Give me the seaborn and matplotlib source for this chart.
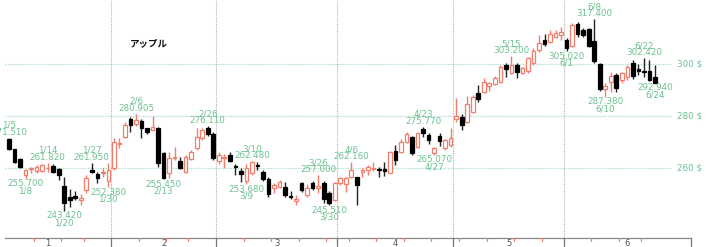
import matplotlib
matplotlib.use("Agg")
import matplotlib.pyplot as plt
import matplotlib.transforms as mtransforms
import numpy as np
import pandas as pd
import seaborn as sns

# ---------------- data ----------------
dates = ["1/5","1/6","1/7","1/8","1/9","1/12","1/13","1/14","1/15","1/16",
         "1/20","1/21","1/22","1/23","1/26","1/27","1/28","1/29","1/30",
         "2/2","2/3","2/4","2/5","2/6","2/9","2/10","2/11","2/12","2/13",
         "2/17","2/18","2/19","2/20","2/23","2/24","2/25","2/26","2/27",
         "3/2","3/3","3/4","3/5","3/6","3/9","3/10","3/11","3/12","3/13",
         "3/16","3/17","3/18","3/19","3/20","3/23","3/24","3/25","3/26","3/27","3/30","3/31",
         "4/1","4/2","4/6","4/7","4/8","4/9","4/10","4/13","4/14","4/15","4/16","4/17",
         "4/20","4/21","4/22","4/23","4/24","4/27","4/28","4/29","4/30",
         "5/1","5/4","5/5","5/6","5/7","5/8","5/11","5/12","5/13","5/14","5/15",
         "5/18","5/19","5/20","5/21","5/22","5/26","5/27","5/28","5/29",
         "6/1","6/2","6/3","6/4","6/5","6/8","6/9","6/10","6/11","6/12",
         "6/15","6/16","6/17","6/18","6/22","6/23","6/24"]

opens = [271.0,267.1,263.2,257.1,259.3,258.8,258.7,259.8,260.7,259.4,
         252.9,248.8,249.1,247.5,251.4,259.1,257.6,258.1,255.0,
         260.0,269.1,272.0,278.8,276.8,278.1,275.2,274.6,275.5,265.6,
         257.8,263.6,262.6,258.5,263.4,267.7,271.4,275.2,272.9,
         262.6,263.6,264.9,260.8,258.7,254.8,257.8,261.0,258.5,255.6,
         252.3,252.6,252.6,249.2,247.1,254.0,249.4,254.0,252.0,254.0,250.1,247.5,
         254.0,253.7,256.3,256.3,258.5,259.1,259.5,259.6,259.4,258.1,266.5,266.2,
         270.1,271.8,268.1,274.9,272.6,265.8,272.3,267.5,268.8,
         278.7,279.7,277.8,281.7,289.0,289.4,291.6,292.4,293.3,299.7,296.8,
         299.7,296.5,297.5,300.4,305.5,309.4,308.7,310.7,311.5,
         309.4,307.1,315.6,313.2,313.5,309.0,300.1,290.3,293.3,295.9,
         293.9,295.0,300.6,298.0,297.4,297.5,295.2]

highs = [271.51,267.4,263.6,259.5,260.4,261.0,261.5,261.82,261.5,259.8,
         256.5,251.6,251.0,249.8,257.2,261.95,258.5,259.8,261.7,
         271.4,271.6,277.8,279.7,280.905,278.8,275.5,280.1,275.9,265.9,
         266.2,268.1,264.3,264.9,266.8,275.2,275.2,276.11,273.9,
         266.2,265.2,266.2,261.3,260.0,261.3,262.48,262.1,259.1,256.5,
         254.0,255.2,254.6,251.0,249.4,254.6,253.6,254.9,257.0,254.9,251.0,254.6,
         256.3,256.3,262.16,256.5,259.8,261.0,262.3,260.1,262.3,266.6,268.8,271.0,
         273.9,272.3,273.9,275.77,273.3,267.9,273.3,271.0,275.5,
         286.8,280.7,287.7,288.1,292.0,294.6,293.3,295.5,299.7,300.6,303.2,
         300.6,299.1,302.9,306.2,311.3,311.7,313.3,313.3,314.6,
         310.1,315.9,316.5,313.9,314.1,317.4,300.6,292.6,297.1,296.8,
         297.1,299.7,301.7,300.1,302.42,301.7,299.7]

lows = [266.8,262.0,260.0,255.7,257.8,257.8,258.3,258.5,258.1,255.2,
        243.42,244.7,247.5,245.6,250.1,258.1,254.2,256.5,252.38,
        259.1,267.7,271.6,273.9,276.2,271.6,272.9,274.2,260.4,255.45,
        255.9,263.0,259.5,258.1,263.0,266.8,270.7,272.3,263.0,
        261.3,260.0,262.1,257.2,254.6,253.68,257.2,259.1,254.9,248.8,
        250.1,252.0,248.8,247.9,245.6,250.7,248.8,251.4,250.1,246.2,245.51,247.0,
        253.3,250.7,255.9,245.6,256.5,257.2,258.8,256.5,256.8,257.8,261.0,265.6,
        269.4,264.9,267.5,271.8,269.2,265.07,268.4,266.8,268.1,
        277.5,274.6,277.2,281.0,285.5,288.8,289.8,292.0,292.9,295.2,296.2,
        294.6,296.1,296.7,299.7,304.9,307.1,308.1,310.1,309.4,
        305.02,306.8,310.7,310.4,306.8,300.6,289.8,287.38,289.4,289.4,
        292.6,293.9,294.2,295.9,295.2,293.7,292.94]

closes = [267.1,262.3,260.4,259.1,259.7,260.1,261.0,260.0,258.5,257.2,
          246.5,247.5,248.3,248.3,255.9,258.3,256.1,258.3,259.1,
          270.1,269.4,276.5,276.5,278.5,275.2,273.7,275.6,261.7,255.9,
          263.9,264.3,260.0,264.3,266.2,272.0,274.6,272.9,263.9,
          264.9,264.0,262.6,260.3,257.4,259.8,262.1,260.7,255.6,249.7,
          253.3,254.4,249.4,248.8,247.9,251.4,252.0,252.3,253.0,247.9,246.2,254.0,
          255.9,255.9,259.1,253.3,259.1,260.1,260.0,259.1,258.8,266.2,263.0,270.1,
          273.0,265.8,273.3,273.3,270.7,267.5,270.4,270.7,271.4,
          280.0,276.5,284.5,287.5,286.5,293.3,292.6,294.8,299.1,298.0,299.7,
          297.1,298.5,302.3,305.3,308.4,307.9,311.9,312.2,312.3,
          306.2,315.2,311.7,311.2,307.0,301.3,290.3,291.6,295.5,290.8,
          296.5,299.1,295.5,297.5,296.9,293.9,292.94]

high_marks = ["1/5","1/14","1/27","2/6","2/26","3/10","3/26","4/6","4/23","5/15","6/8","6/22"]
low_marks = ["1/8","1/20","1/30","2/13","3/9","3/30","4/27","6/1","6/10","6/24"]

month_labels = ["1", "2", "3", "4", "5", "6"]
price_ticks = [260, 280, 300]
title = "アップル"

# ---------------- styling ----------------
sns.set_theme(style="white")
plt.rcParams["font.family"] = ["Liberation Sans Narrow", "DejaVu Sans"]

UP = "#f27d6a"
DOWN = "#000000"
DOWN_WICK = "#222222"
GREEN = "#6cc28e"
GRID_G = "#a9dcc6"
VGRID = "#b4b4b4"
FS = 6.3

df = pd.DataFrame({"date": dates, "open": opens, "high": highs,
                   "low": lows, "close": closes})
df["i"] = np.arange(len(df))
df["up"] = df["close"] >= df["open"]
df["month"] = df["date"].str.split("/").str[0].astype(int)
df["day"] = df["date"].str.split("/").str[1].astype(int)
df["ts"] = pd.to_datetime(dict(year=2026, month=df["month"], day=df["day"]))

W, H = 706, 247
fig = plt.figure(figsize=(W / 100, H / 100), dpi=100)
fig.patch.set_facecolor("white")
ax = fig.add_axes([5 / W, 9 / H, 686 / W, 238 / H])
ax.set_facecolor("white")

x_left, x_right = -0.724, 123.53
ax.set_xlim(x_left, x_right)
ax.set_ylim(232.8, 324.87)

# horizontal grid (ends before the price labels)
grid_end = 120.1
for p in price_ticks:
    ax.plot([x_left, grid_end], [p, p], color=GRID_G, lw=0.9,
            linestyle=(0, (1, 1)), zorder=1)
    ax.annotate(f"{p} $", xy=(125.5, p), xycoords="data", ha="right",
                va="center", fontsize=FS, color=GREEN, annotation_clip=False)

# month separators
month_change = df.index[df["month"].diff().fillna(0) != 0].tolist()
bounds = [i - 0.5 for i in month_change]
for b in bounds:
    ax.axvline(b, color=VGRID, lw=0.8, linestyle=(0, (1, 1)), zorder=1)
trans = mtransforms.blended_transform_factory(ax.transData, ax.transAxes)
all_bounds = [-4.5] + bounds + [123.5]
for b in bounds + [123.5]:
    ax.plot([b, b], [0, -8 / 238], transform=trans, color="#777777", lw=0.9,
            clip_on=False, zorder=4)
for k, lab in enumerate(month_labels):
    mid = (all_bounds[k] + all_bounds[k + 1]) / 2
    ax.annotate(lab, xy=(mid, 0), xycoords=trans, xytext=(0, -5),
                textcoords="offset pixels", ha="center", va="center",
                fontsize=6, color="#555555", family="DejaVu Sans",
                annotation_clip=False)

# weekly separators (small red ticks)
wk = df["ts"].dt.isocalendar().week.astype(int)
week_change = df.index[(wk.diff().fillna(0) != 0)].tolist()
for i in week_change:
    if i in month_change:
        continue
    ax.plot([i - 0.5, i - 0.5], [0, -2.5 / 238], transform=trans, color=UP,
            lw=0.9, clip_on=False, zorder=4)

# bottom axis line
for s in ["top", "left", "right"]:
    ax.spines[s].set_visible(False)
ax.spines["bottom"].set_color("#888888")
ax.spines["bottom"].set_linewidth(0.9)
ax.set_xticks([])
ax.set_yticks([])

# candles
up = df[df["up"]]
dn = df[~df["up"]]
ax.vlines(up["i"], up["low"], up["high"], color=UP, lw=1.0, zorder=2)
ax.vlines(dn["i"], dn["low"], dn["high"], color=DOWN_WICK, lw=1.0, zorder=2)
ax.bar(up["i"], (up["close"] - up["open"]).clip(lower=0.15), bottom=up["open"],
       width=0.66, color="white", edgecolor=UP, linewidth=0.9, zorder=3)
ax.bar(dn["i"], (dn["open"] - dn["close"]).clip(lower=0.15), bottom=dn["close"],
       width=0.66, color=DOWN, edgecolor=DOWN, linewidth=0.9, zorder=3)

# annotations
for d in high_marks:
    r = df[df["date"] == d].iloc[0]
    ax.annotate(f"{r['high']:.3f}", xy=(r["i"], r["high"]), xytext=(0, 5.5),
                textcoords="offset pixels", ha="center", va="center",
                fontsize=FS, color=GREEN, annotation_clip=False, zorder=5)
    ax.annotate(d, xy=(r["i"], r["high"]), xytext=(0, 12.5),
                textcoords="offset pixels", ha="center", va="center",
                fontsize=FS, color=GREEN, annotation_clip=False, zorder=5)
for d in low_marks:
    r = df[df["date"] == d].iloc[0]
    ax.annotate(f"{r['low']:.3f}", xy=(r["i"], r["low"]), xytext=(0, -5),
                textcoords="offset pixels", ha="center", va="center",
                fontsize=FS, color=GREEN, annotation_clip=False, zorder=5)
    ax.annotate(d, xy=(r["i"], r["low"]), xytext=(0, -12),
                textcoords="offset pixels", ha="center", va="center",
                fontsize=FS, color=GREEN, annotation_clip=False, zorder=5)

fig.text(130 / W, 1 - 43 / H, title, ha="left", va="center", fontsize=6.8,
         fontweight="bold", color="#111111",
         family=["Noto Sans CJK JP", "DejaVu Sans"])

fig.savefig("out.png", dpi=100, facecolor="white")
